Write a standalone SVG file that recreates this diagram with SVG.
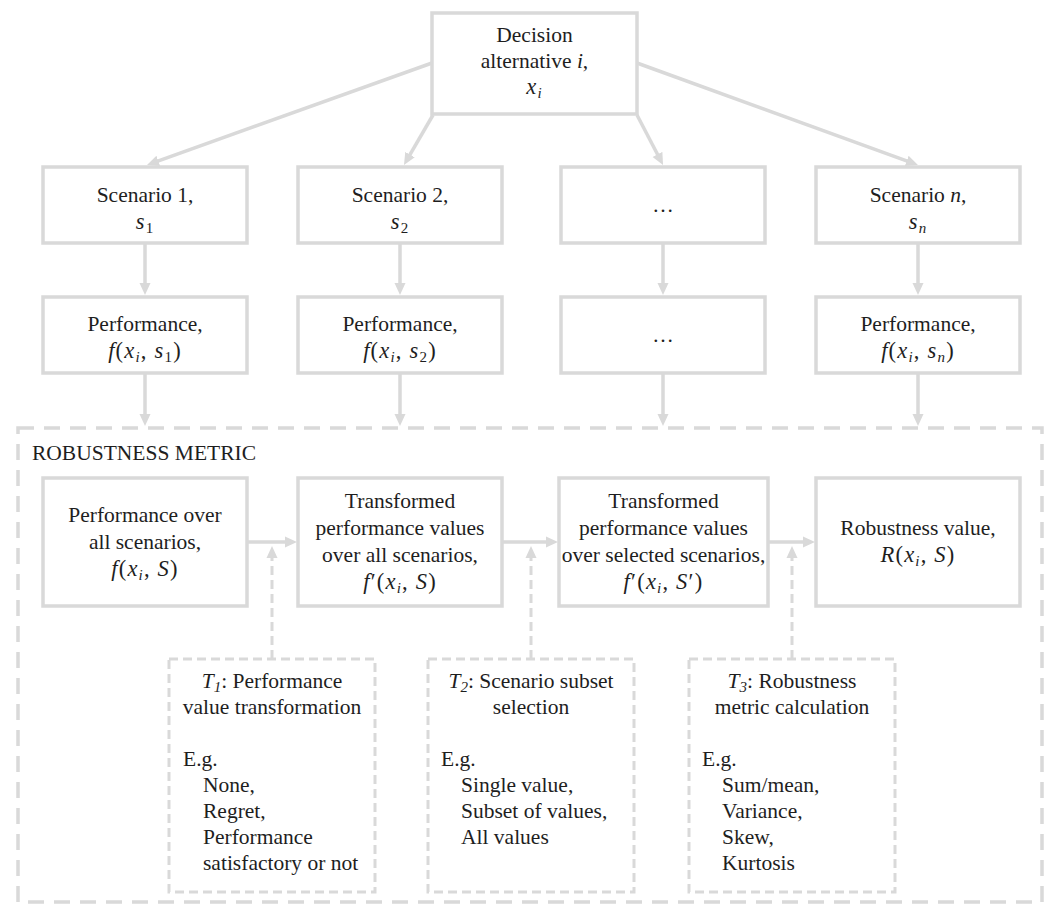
<svg xmlns="http://www.w3.org/2000/svg" width="1058" height="918" viewBox="0 0 1058 918">
<style>
.box{fill:#fff;stroke:#d9d9d9;stroke-width:3.5}
.dbox{fill:none;stroke:#d9d9d9;stroke-width:3.5;stroke-dasharray:16 10}
.tbox{fill:#fff;stroke:#d9d9d9;stroke-width:3;stroke-dasharray:9 5}
.ln{stroke:#d9d9d9;stroke-width:3.5;fill:none}
.dl{stroke:#d9d9d9;stroke-width:3;fill:none;stroke-dasharray:9 5}
text{font-family:"Liberation Serif","Times New Roman",serif;font-size:21.5px;fill:#1e1e1e}
.c{text-anchor:middle}
.i{font-style:italic}
.s{font-size:15px}
.m{font-size:22.5px;letter-spacing:1.2px}
</style>
<defs>
<marker id="a" viewBox="0 0 12 12" refX="5" refY="6" markerWidth="12" markerHeight="12" markerUnits="userSpaceOnUse" orient="auto"><path d="M0,0.5 L12,6 L0,11.5 z" fill="#d9d9d9"/></marker>
</defs>
<rect width="1058" height="918" fill="#fff"/>

<g id="robustness-metric">
<rect class="dbox" x="18" y="428" width="1024" height="474"/>
<text x="32" y="460">ROBUSTNESS METRIC</text>
</g>

<g id="connectors">
<line class="ln" x1="432" y1="63" x2="153.6" y2="162.6" marker-end="url(#a)"/>
<line class="ln" x1="433" y1="115" x2="407.5" y2="158.9" marker-end="url(#a)"/>
<line class="ln" x1="637" y1="115" x2="659.8" y2="158.8" marker-end="url(#a)"/>
<line class="ln" x1="637" y1="63" x2="911.4" y2="162.6" marker-end="url(#a)"/>
<line class="ln" x1="145" y1="243" x2="145" y2="288" marker-end="url(#a)"/>
<line class="ln" x1="400" y1="243" x2="400" y2="288" marker-end="url(#a)"/>
<line class="ln" x1="663" y1="243" x2="663" y2="288" marker-end="url(#a)"/>
<line class="ln" x1="918" y1="243" x2="918" y2="288" marker-end="url(#a)"/>
<line class="ln" x1="145" y1="373" x2="145" y2="419" marker-end="url(#a)"/>
<line class="ln" x1="400" y1="373" x2="400" y2="419" marker-end="url(#a)"/>
<line class="ln" x1="663" y1="373" x2="663" y2="419" marker-end="url(#a)"/>
<line class="ln" x1="918" y1="373" x2="918" y2="419" marker-end="url(#a)"/>
<line class="ln" x1="248" y1="542" x2="290" y2="542" marker-end="url(#a)"/>
<line class="ln" x1="503" y1="542" x2="551" y2="542" marker-end="url(#a)"/>
<line class="ln" x1="768" y1="542" x2="808" y2="542" marker-end="url(#a)"/>
<line class="dl" x1="272" y1="659" x2="272" y2="553" marker-end="url(#a)"/>
<line class="dl" x1="531" y1="659" x2="531" y2="553" marker-end="url(#a)"/>
<line class="dl" x1="792" y1="659" x2="792" y2="553" marker-end="url(#a)"/>
</g>

<g id="decision">
<rect class="box" x="432" y="13" width="205" height="101"/>
<text class="c" x="534.5" y="42">Decision</text>
<text class="c" x="534.5" y="68">alternative <tspan class="i">i</tspan>,</text>
<text class="c m" x="534.5" y="94"><tspan class="i">x</tspan><tspan class="i s" dy="4">i</tspan></text>
</g>

<g id="scenario-1">
<rect class="box" x="43" y="167" width="204" height="76"/>
<text class="c" x="145" y="202">Scenario 1,</text>
<text class="c m" x="145" y="229"><tspan class="i">s</tspan><tspan class="s" dy="4">1</tspan></text>
</g>
<g id="scenario-2">
<rect class="box" x="298" y="167" width="204" height="76"/>
<text class="c" x="400" y="202">Scenario 2,</text>
<text class="c m" x="400" y="229"><tspan class="i">s</tspan><tspan class="s" dy="4">2</tspan></text>
</g>
<g id="scenario-dots">
<rect class="box" x="561" y="167" width="204" height="76"/>
<text class="c" x="663" y="212">…</text>
</g>
<g id="scenario-n">
<rect class="box" x="816" y="167" width="204" height="76"/>
<text class="c" x="918" y="202">Scenario <tspan class="i">n</tspan>,</text>
<text class="c m" x="918" y="229"><tspan class="i">s</tspan><tspan class="i s" dy="4">n</tspan></text>
</g>

<g id="performance-1">
<rect class="box" x="43" y="297" width="204" height="76"/>
<text class="c" x="145" y="331">Performance,</text>
<text class="c m" x="145" y="358"><tspan class="i">f</tspan>(<tspan class="i">x</tspan><tspan class="i s" dy="4">i</tspan><tspan dy="-4">, </tspan><tspan class="i">s</tspan><tspan class="s" dy="4">1</tspan><tspan dy="-4">)</tspan></text>
</g>
<g id="performance-2">
<rect class="box" x="298" y="297" width="204" height="76"/>
<text class="c" x="400" y="331">Performance,</text>
<text class="c m" x="400" y="358"><tspan class="i">f</tspan>(<tspan class="i">x</tspan><tspan class="i s" dy="4">i</tspan><tspan dy="-4">, </tspan><tspan class="i">s</tspan><tspan class="s" dy="4">2</tspan><tspan dy="-4">)</tspan></text>
</g>
<g id="performance-dots">
<rect class="box" x="561" y="297" width="204" height="76"/>
<text class="c" x="663" y="342">…</text>
</g>
<g id="performance-n">
<rect class="box" x="816" y="297" width="204" height="76"/>
<text class="c" x="918" y="331">Performance,</text>
<text class="c m" x="918" y="358"><tspan class="i">f</tspan>(<tspan class="i">x</tspan><tspan class="i s" dy="4">i</tspan><tspan dy="-4">, </tspan><tspan class="i">s</tspan><tspan class="i s" dy="4">n</tspan><tspan dy="-4">)</tspan></text>
</g>

<g id="perf-all">
<rect class="box" x="43" y="478" width="204" height="128"/>
<text class="c" x="145" y="522">Performance over</text>
<text class="c" x="145" y="549">all scenarios,</text>
<text class="c m" x="145" y="576"><tspan class="i">f</tspan>(<tspan class="i">x</tspan><tspan class="i s" dy="4">i</tspan><tspan dy="-4">, </tspan><tspan class="i">S</tspan>)</text>
</g>
<g id="transformed-all">
<rect class="box" x="298" y="478" width="204" height="128"/>
<text class="c" x="400" y="508">Transformed</text>
<text class="c" x="400" y="535">performance values</text>
<text class="c" x="400" y="562">over all scenarios,</text>
<text class="c m" x="400" y="589"><tspan class="i">f</tspan>′(<tspan class="i">x</tspan><tspan class="i s" dy="4">i</tspan><tspan dy="-4">, </tspan><tspan class="i">S</tspan>)</text>
</g>
<g id="transformed-selected">
<rect class="box" x="559" y="478" width="209" height="128"/>
<text class="c" x="663.5" y="508">Transformed</text>
<text class="c" x="663.5" y="535">performance values</text>
<text class="c" x="663.5" y="562">over selected scenarios,</text>
<text class="c m" x="663.5" y="589"><tspan class="i">f</tspan>′(<tspan class="i">x</tspan><tspan class="i s" dy="4">i</tspan><tspan dy="-4">, </tspan><tspan class="i">S</tspan>′)</text>
</g>
<g id="robustness-value">
<rect class="box" x="816" y="478" width="204" height="128"/>
<text class="c" x="918" y="535">Robustness value,</text>
<text class="c m" x="918" y="562"><tspan class="i">R</tspan>(<tspan class="i">x</tspan><tspan class="i s" dy="4">i</tspan><tspan dy="-4">, </tspan><tspan class="i">S</tspan>)</text>
</g>

<g id="t1">
<rect class="tbox" x="169" y="659" width="206" height="233"/>
<text class="c" x="272" y="688"><tspan class="i">T</tspan><tspan class="i s" dy="4">1</tspan><tspan dy="-4">: Performance</tspan></text>
<text class="c" x="272" y="714">value transformation</text>
<text x="183" y="766">E.g.</text>
<text x="203" y="792">None,</text>
<text x="203" y="818">Regret,</text>
<text x="203" y="844">Performance</text>
<text x="203" y="870">satisfactory or not</text>
</g>
<g id="t2">
<rect class="tbox" x="428" y="659" width="206" height="233"/>
<text class="c" x="531" y="688"><tspan class="i">T</tspan><tspan class="i s" dy="4">2</tspan><tspan dy="-4">: Scenario subset</tspan></text>
<text class="c" x="531" y="714">selection</text>
<text x="441" y="766">E.g.</text>
<text x="461" y="792">Single value,</text>
<text x="461" y="818">Subset of values,</text>
<text x="461" y="844">All values</text>
</g>
<g id="t3">
<rect class="tbox" x="689" y="659" width="206" height="233"/>
<text class="c" x="792" y="688"><tspan class="i">T</tspan><tspan class="i s" dy="4">3</tspan><tspan dy="-4">: Robustness</tspan></text>
<text class="c" x="792" y="714">metric calculation</text>
<text x="702" y="766">E.g.</text>
<text x="722" y="792">Sum/mean,</text>
<text x="722" y="818">Variance,</text>
<text x="722" y="844">Skew,</text>
<text x="722" y="870">Kurtosis</text>
</g>
</svg>
